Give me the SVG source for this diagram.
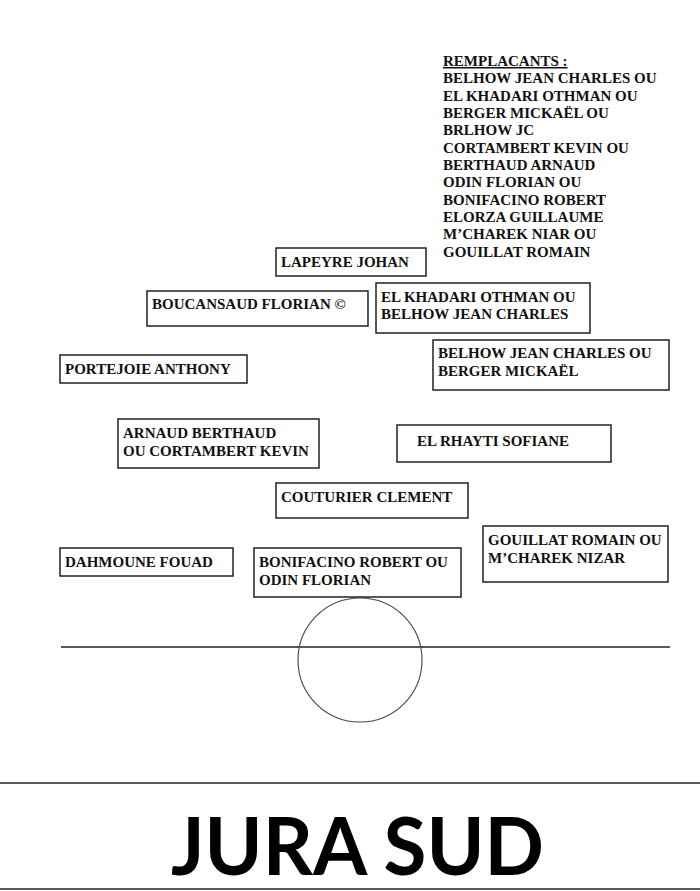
<svg xmlns="http://www.w3.org/2000/svg" width="700" height="891" viewBox="0 0 700 891">
<style>
.box{fill:#fff;stroke:#222;stroke-width:1.5}
.t{font-family:"Liberation Serif","Times New Roman",serif;font-weight:bold;font-size:15px;fill:#111}
.ln{stroke:#222;stroke-width:1.4;fill:none}
</style>
<rect width="700" height="891" fill="#fff"/>
<g id="field">
<line class="ln" x1="61" y1="647" x2="670" y2="647"/>
<circle cx="360" cy="660" r="62" fill="none" stroke="#444" stroke-width="1.1"/>
<line class="ln" x1="0" y1="783" x2="700" y2="783"/>
<line class="ln" x1="0" y1="889" x2="700" y2="889"/>
</g>
<g id="remplacants" class="t">
<text x="443" y="66" text-decoration="underline">REMPLACANTS :</text>
<text x="443" y="83">BELHOW JEAN CHARLES OU</text>
<text x="443" y="100.5">EL KHADARI OTHMAN OU</text>
<text x="443" y="118">BERGER MICKAËL OU</text>
<text x="443" y="135">BRLHOW JC</text>
<text x="443" y="152.5">CORTAMBERT KEVIN OU</text>
<text x="443" y="170">BERTHAUD ARNAUD</text>
<text x="443" y="187">ODIN FLORIAN OU</text>
<text x="443" y="204.5">BONIFACINO ROBERT</text>
<text x="443" y="222">ELORZA GUILLAUME</text>
<text x="443" y="239">M’CHAREK NIAR OU</text>
<text x="443" y="256.5">GOUILLAT ROMAIN</text>
</g>
<g id="lapeyre"><rect class="box" x="276" y="248" width="150" height="28"/><text class="t" x="281" y="267">LAPEYRE JOHAN</text></g>
<g id="boucansaud"><rect class="box" x="147" y="291" width="221" height="35"/><text class="t" x="152" y="309">BOUCANSAUD FLORIAN ©</text></g>
<g id="elkhadari"><rect class="box" x="376" y="283" width="214" height="50"/><text class="t" x="381" y="302">EL KHADARI OTHMAN OU</text><text class="t" x="381" y="319">BELHOW JEAN CHARLES</text></g>
<g id="portejoie"><rect class="box" x="60" y="355" width="187" height="28"/><text class="t" x="65" y="374">PORTEJOIE ANTHONY</text></g>
<g id="belhow"><rect class="box" x="433" y="340" width="236" height="50"/><text class="t" x="438" y="358">BELHOW JEAN CHARLES OU</text><text class="t" x="438" y="376">BERGER MICKAËL</text></g>
<g id="arnaud"><rect class="box" x="118" y="419" width="201" height="49"/><text class="t" x="123" y="438">ARNAUD BERTHAUD</text><text class="t" x="123" y="456">OU CORTAMBERT KEVIN</text></g>
<g id="elrhayti"><rect class="box" x="397" y="425" width="214" height="37"/><text class="t" x="417" y="446">EL RHAYTI SOFIANE</text></g>
<g id="couturier"><rect class="box" x="276" y="483" width="192" height="35"/><text class="t" x="281" y="502">COUTURIER CLEMENT</text></g>
<g id="gouillat"><rect class="box" x="483" y="526" width="185" height="56"/><text class="t" x="488" y="545">GOUILLAT ROMAIN OU</text><text class="t" x="488" y="563">M’CHAREK NIZAR</text></g>
<g id="dahmoune"><rect class="box" x="60" y="548" width="173" height="28"/><text class="t" x="65" y="567">DAHMOUNE FOUAD</text></g>
<g id="bonifacino"><rect class="box" x="254" y="548" width="207" height="49"/><text class="t" x="259" y="567">BONIFACINO ROBERT OU</text><text class="t" x="259" y="585">ODIN FLORIAN</text></g>
<g id="connectors"></g>
<text id="title" x="171" y="875" font-family="Lato,'Open Sans',sans-serif" font-weight="bold" font-size="80" textLength="373" lengthAdjust="spacingAndGlyphs" fill="#000">JURA SUD</text>
</svg>
